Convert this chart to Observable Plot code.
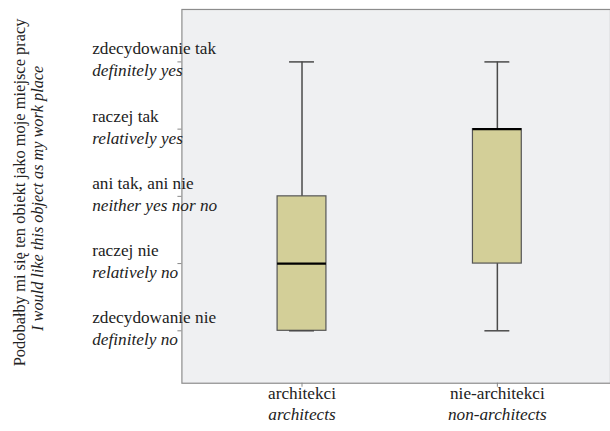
<!DOCTYPE html>
<html>
<head>
<meta charset="utf-8">
<script src="https://cdn.jsdelivr.net/npm/d3@7"></script>
<script src="https://cdn.jsdelivr.net/npm/@observablehq/plot@0.6"></script>
<style>
  html, body { margin: 0; padding: 0; background: #fff; overflow: hidden; }
  #chart svg { display: block; }
  #chart svg text { font-family: "Liberation Serif", "Times New Roman", serif; }
</style>
</head>
<body>
<div id="chart"></div>
<script>
// Groups (x categories)
const groupsPl = ["architekci", "nie-architekci"];
const groupsEn = ["architects", "non-architects"];
// Box plot statistics per group
const mins    = [1, 1];
const q1s     = [1, 2];
const medians = [2, 4];
const q3s     = [3, 4];
const maxs    = [5, 5];
// Answer scale (y ticks)
const levelValues = [1, 2, 3, 4, 5];
const levelsPl = ["zdecydowanie nie", "raczej nie", "ani tak, ani nie", "raczej tak", "zdecydowanie tak"];
const levelsEn = ["definitely no", "relatively no", "neither yes nor no", "relatively yes", "definitely yes"];
// Axis title
const titlePl = "Podobałby mi się ten obiekt jako moje miejsce pracy";
const titleEn = "I would like this object as my work place";

const rows = groupsPl.map((g, i) => ({
  group: g, en: groupsEn[i], min: mins[i], q1: q1s[i], median: medians[i], q3: q3s[i], max: maxs[i]
}));
const levels = levelValues.map((v, i) => ({v, pl: levelsPl[i], en: levelsEn[i]}));

const font = "'Liberation Serif', 'Times New Roman', serif";
const fs = 17.3;

const chart = Plot.plot({
  width: 612,
  height: 431,
  marginLeft: 182,
  marginRight: 0,
  marginTop: 9,
  marginBottom: 47,
  style: {fontFamily: font, fontSize: "17px", background: "#fff", color: "#222"},
  x: {type: "band", domain: groupsPl, paddingInner: 0.75, paddingOuter: 0.467, align: 0.52, axis: null},
  y: {domain: [0.22, 5.78], axis: null},
  marks: [
    Plot.frame({fill: "#eff0f2", stroke: "#8c8c8c", strokeWidth: 1.2}),
    Plot.axisY({ticks: levelValues, tickFormat: () => "", tickSize: 4, stroke: "#888", label: null}),
    Plot.axisX({tickFormat: () => "", tickSize: 4, stroke: "#888", label: null}),
    Plot.ruleX(rows, {x: "group", y1: "min", y2: "max", stroke: "#4a4a4a", strokeWidth: 1.5}),
    Plot.barY(rows, {x: "group", y1: "q1", y2: "q3", fill: "#d3cf98", stroke: "#555", strokeWidth: 1.2}),
    Plot.tickY(rows, {x: "group", y: "min", stroke: "#4a4a4a", strokeWidth: 1.5, insetLeft: 12, insetRight: 12}),
    Plot.tickY(rows, {x: "group", y: "max", stroke: "#4a4a4a", strokeWidth: 1.5, insetLeft: 12, insetRight: 12}),
    Plot.tickY(rows, {x: "group", y: "median", stroke: "#000", strokeWidth: 2.2}),
    // y tick labels (two lines)
    Plot.text(levels, {y: "v", text: "pl", frameAnchor: "left", textAnchor: "start", dx: -90, dy: -13, fontSize: fs, fontFamily: font, fill: "#222"}),
    Plot.text(levels, {y: "v", text: "en", frameAnchor: "left", textAnchor: "start", dx: -90, dy: 9, fontSize: fs, fontFamily: font, fontStyle: "italic", fill: "#222"}),
    // x tick labels (two lines)
    Plot.text(rows, {x: "group", text: "group", frameAnchor: "bottom", dy: 16, fontSize: fs, fontFamily: font, fill: "#222"}),
    Plot.text(rows, {x: "group", text: "en", frameAnchor: "bottom", dy: 37, fontSize: fs, fontFamily: font, fontStyle: "italic", fill: "#222"}),
    // y axis title (two lines, rotated)
    Plot.text([titlePl], {text: d => d, frameAnchor: "left", textAnchor: "middle", rotate: -90, dx: -163, dy: -4, fontSize: 16.5, fontFamily: font, fill: "#222"}),
    Plot.text([titleEn], {text: d => d, frameAnchor: "left", textAnchor: "middle", rotate: -90, dx: -145, dy: 2, fontSize: 16.3, fontFamily: font, fontStyle: "italic", fill: "#222"})
  ]
});
document.getElementById("chart").appendChild(chart);
</script>
</body>
</html>
